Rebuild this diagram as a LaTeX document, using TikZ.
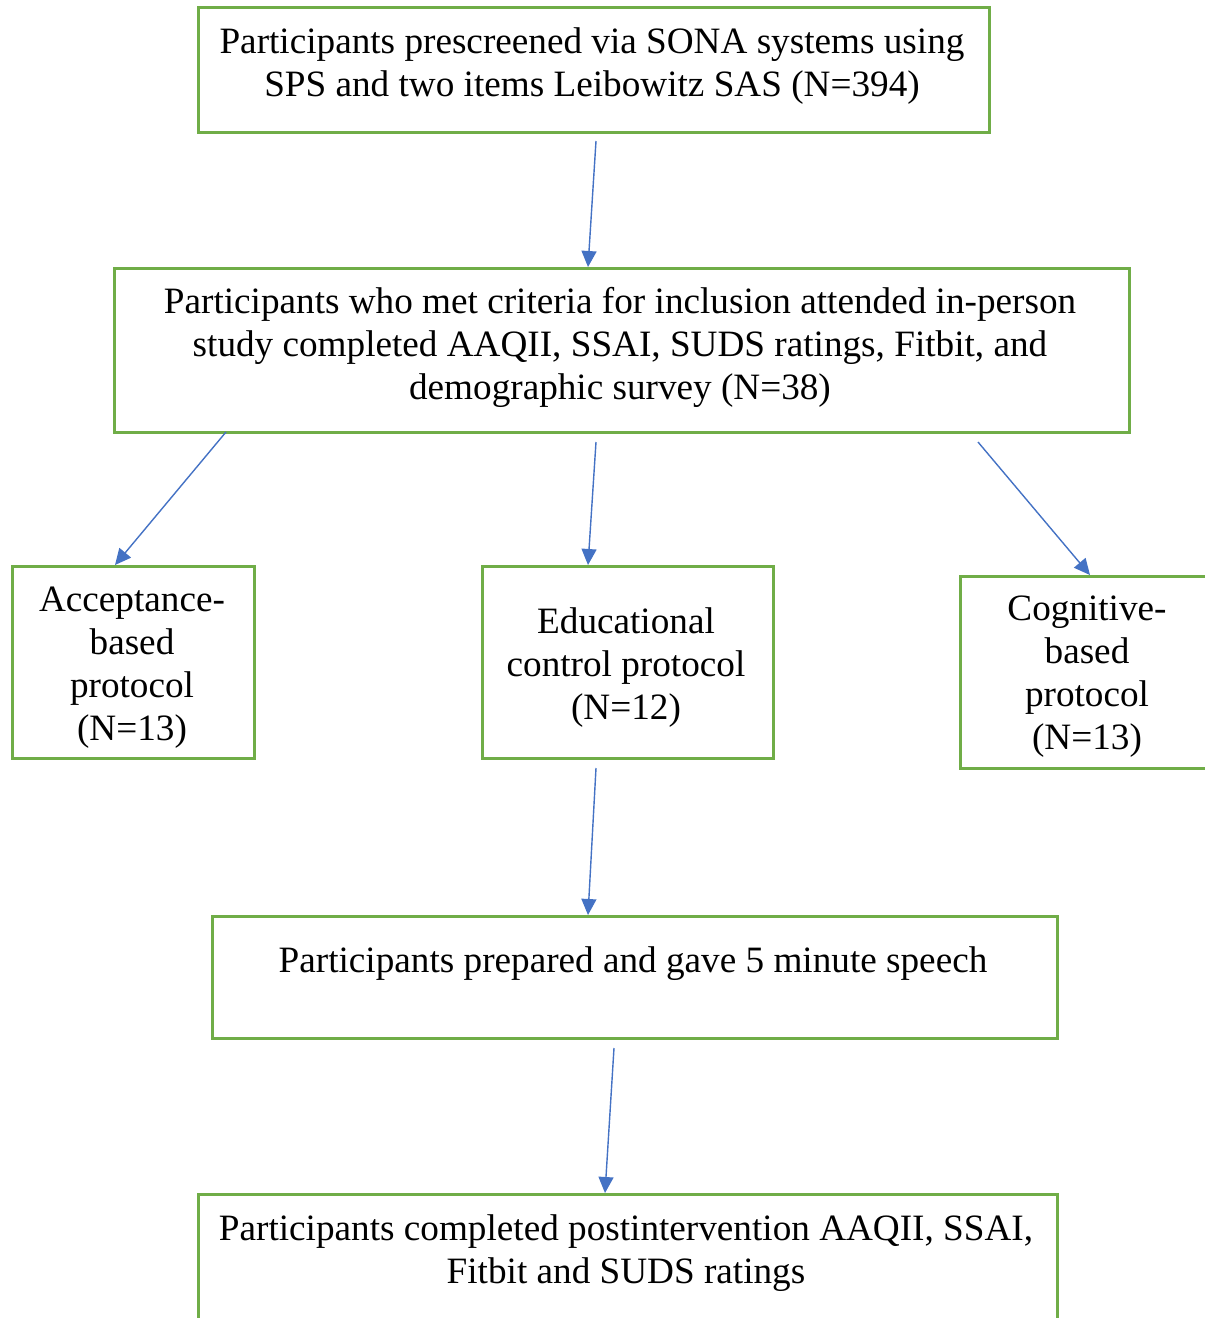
\documentclass[tikz,border=0pt]{standalone}
\usepackage{fontspec}
\setmainfont{Liberation Serif}
\usetikzlibrary{arrows.meta}
\definecolor{boxgreen}{HTML}{70AD47}
\definecolor{arrowblue}{HTML}{4472C4}
\tikzset{
  box/.style={draw=boxgreen, line width=2.8pt, rectangle, inner sep=0pt, anchor=north west},
  txt/.style={font=\fontsize{37.2}{43}\selectfont, align=center, inner sep=0pt, anchor=north},
  arr/.style={draw=arrowblue, line width=1.4pt, -{Triangle[length=16pt,width=15pt]}}
}
\begin{document}
\begin{tikzpicture}[x=1pt,y=-1pt]
\useasboundingbox (0,0) rectangle (1205,1318);
\begin{scope}
\clip (0,0) rectangle (1205,1318);
% boxes
\node[box, minimum width=791pt, minimum height=125pt] (b1) at (197,6) {};
\node[box, minimum width=1015pt, minimum height=164pt] (b2) at (113,267) {};
\node[box, minimum width=242pt, minimum height=192pt] (b3) at (11,565) {};
\node[box, minimum width=291pt, minimum height=192pt] (b4) at (481,565) {};
\node[box, minimum width=252pt, minimum height=192pt] (b5) at (959,575) {};
\node[box, minimum width=845pt, minimum height=122pt] (b6) at (211,915) {};
\node[box, minimum width=859pt, minimum height=140pt] (b7) at (197,1193) {};
% texts
\node[txt] (t1) at (592,27) {Participants prescreened via SONA systems using\\SPS and two items Leibowitz SAS (N=394)};
\node[txt] (t2) at (620,287) {Participants who met criteria for inclusion attended in-person\\study completed AAQII, SSAI, SUDS ratings, Fitbit, and\\demographic survey (N=38)};
\node[txt] (t3) at (132,587) {Acceptance-\\based\\protocol\\(N=13)};
\node[txt] (t4) at (626,607) {Educational\\control protocol\\(N=12)};
\node[txt] (t5) at (1087,596) {Cognitive-\\based\\protocol\\(N=13)};
\node[txt] (t6) at (633,946) {Participants prepared and gave 5 minute speech};
\node[txt] (t7) at (626,1214) {Participants completed postintervention AAQII, SSAI,\\Fitbit and SUDS ratings};
% arrow start points
\coordinate (s1) at (596,141);
\coordinate (s2) at (226,432);
\coordinate (s3) at (596,442);
\coordinate (s4) at (978,442);
\coordinate (s5) at (596,768);
\coordinate (s6) at (614,1048);
\draw[arr] (s1) -- (b2.north west -| 588,0);
\draw[arr] (s2) -- (b3.north west -| 115,0);
\draw[arr] (s3) -- (b4.north west -| 588,0);
\draw[arr] (s4) -- (b5.north west -| 1090,0);
\draw[arr] (s5) -- (b6.north west -| 588,0);
\draw[arr] (s6) -- (b7.north west -| 605,0);
\end{scope}
\end{tikzpicture}
\end{document}
